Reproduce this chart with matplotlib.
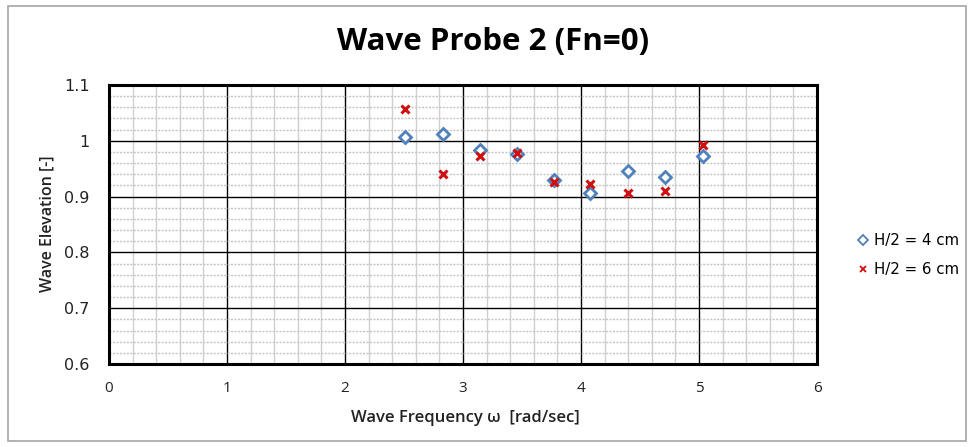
import matplotlib
matplotlib.use("Agg")
import matplotlib.pyplot as plt
from matplotlib.patches import Rectangle
from matplotlib.ticker import MultipleLocator

# Wave frequency [rad/sec]
omega = [2.51, 2.83, 3.14, 3.46, 3.77, 4.08, 4.40, 4.71, 5.03]
# Wave elevation for two wave amplitudes
elev_h4 = [1.006, 1.012, 0.984, 0.976, 0.930, 0.906, 0.945, 0.935, 0.973]
elev_h6 = [1.057, 0.940, 0.972, 0.978, 0.927, 0.922, 0.907, 0.910, 0.993]
label_h4 = "H/2 = 4 cm"
label_h6 = "H/2 = 6 cm"
x_ticks = [0, 1, 2, 3, 4, 5, 6]
y_ticks = [0.6, 0.7, 0.8, 0.9, 1.0, 1.1]
y_tick_labels = ["0.6", "0.7", "0.8", "0.9", "1", "1.1"]

W, H = 971, 447
fig = plt.figure(figsize=(W / 100, H / 100), dpi=100)

# chart area border
fig.patches.append(Rectangle((8 / W, 1 - 441 / H), 958 / W, 435 / H,
                             transform=fig.transFigure, fill=False,
                             edgecolor="#a6a6a6", linewidth=1.2))

ax = fig.add_axes([109 / W, 1 - 364 / H, (817 - 109) / W, (364 - 85) / H])
ax.set_xlim(0, 6)
ax.set_ylim(0.6, 1.1)

ax.xaxis.set_major_locator(MultipleLocator(1))
ax.xaxis.set_minor_locator(MultipleLocator(0.2))
ax.yaxis.set_major_locator(MultipleLocator(0.1))
ax.yaxis.set_minor_locator(MultipleLocator(0.02))

ax.grid(which="minor", axis="x", color="#d0d0d0", linewidth=1.0, linestyle="-")
ax.grid(which="minor", axis="y", color="#c4c4c4", linewidth=1.0, linestyle=(0, (1.5, 1)))
ax.grid(which="major", color="black", linewidth=1.0)
ax.set_axisbelow(True)

for s in ax.spines.values():
    s.set_linewidth(2.2)
    s.set_color("black")

ax.tick_params(which="both", length=0)
ax.tick_params(axis="x", pad=12)
ax.tick_params(axis="y", pad=14)
ax.set_xticks(x_ticks)
ax.set_xticklabels([str(v) for v in x_ticks], family="Open Sans", fontsize=11, color="#222222")
ax.set_yticks(y_ticks)
ax.set_yticklabels(y_tick_labels, family="DejaVu Sans", fontsize=11.5, color="#222222")

ax.plot(omega, elev_h4, linestyle="none", marker="D", markersize=6.5,
        markerfacecolor="white", markeredgecolor="#4f81bd", markeredgewidth=2.0,
        label=label_h4, zorder=3)
ax.plot(omega, elev_h6, linestyle="none", marker="x", markersize=6,
        color="#d01010", markeredgewidth=2.2, label=label_h6, zorder=4)

fig.text(493 / W, 1 - 42 / H, "Wave Probe 2 (Fn=0)", ha="center", va="center",
         family="Open Sans", fontweight="bold", fontsize=22.5, color="black")
fig.text(47 / W, 1 - 224 / H, "Wave Elevation [-]", ha="center", va="center",
         rotation=90, family="Open Sans", fontweight="semibold", fontsize=11.5, color="#222222")
fig.text(465 / W, 1 - 418 / H, "Wave Frequency \u03c9  [rad/sec]", ha="center", va="center",
         family="Open Sans", fontweight="semibold", fontsize=12, color="#222222")

leg = fig.legend(loc="center left", bbox_to_anchor=(845 / W, 1 - 255 / H),
                 frameon=False, handlelength=0.6, handletextpad=0.4,
                 labelspacing=0.9, prop={"family": "DejaVu Sans", "size": 10.8})
for h in leg.legend_handles:
    h.set_markersize(5)
    h.set_markeredgewidth(1.3)

fig.savefig("out.png", dpi=100)
